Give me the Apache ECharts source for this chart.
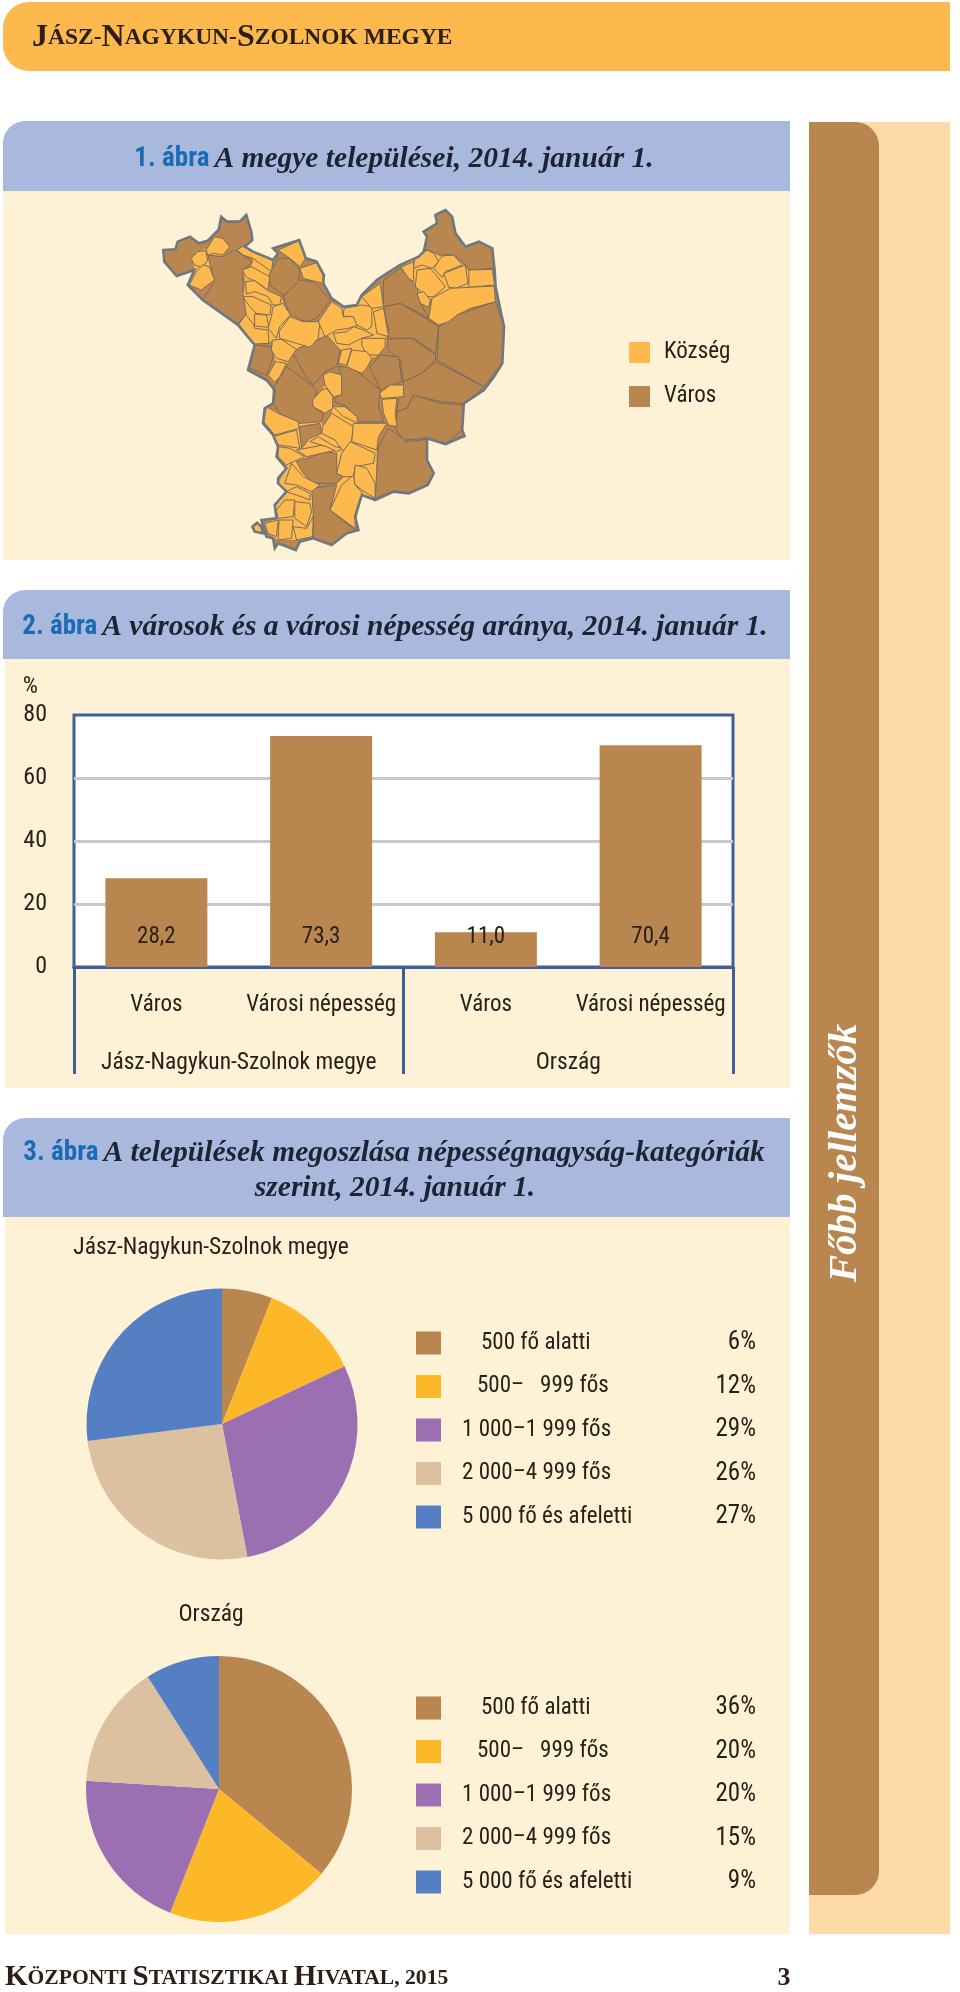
<!DOCTYPE html>
<html><head><meta charset="utf-8">
<style>html,body{margin:0;padding:0;background:#fff}#c{width:960px;height:1992px}</style>
<script src="https://cdn.jsdelivr.net/npm/echarts@6/dist/echarts.min.js"></script>
</head><body><div id="c"></div>
<script>
// ---------- data ----------
const barCategories = ['Város','Városi népesség','Város ','Városi népesség '];
const barGroups = ['Jász-Nagykun-Szolnok megye','Ország'];
const barValues = [28.2,73.3,11.0,70.4];
const barLabels = ['28,2','73,3','11,0','70,4'];
const pieCategories = ['500 fő alatti','500–   999 fős','1 000–1 999 fős','2 000–4 999 fős','5 000 fő és afeletti'];
const pieCounty = [6,12,29,26,27];
const pieCountry = [36,20,20,15,9];
const pieColors = ['#b8864e','#fdb827','#9b6fb1','#dcc1a0','#557fc3'];
const legendIndent = [35,31,16,16,16];
const mapLegend = ['Község','Város'];

// map geometry (map units)
const countyOutline = [[72,180],[108,178],[115,155],[152,140],[178,160],[205,152],[238,118],[245,80],[262,95],[300,95],[320,75],[335,125],[338,150],[315,170],[340,185],[400,210],[415,190],[400,175],[478,150],[498,205],[530,215],[552,255],[550,280],[575,325],[610,350],[650,345],[665,315],[710,270],[725,260],[780,225],[835,200],[850,185],[860,140],[850,125],[890,100],[885,75],[915,60],[935,80],[945,130],[975,170],[1015,155],[1055,175],[1062,240],[1065,290],[1075,340],[1090,410],[1085,520],[1060,560],[1030,600],[970,640],[965,720],[972,738],[915,762],[860,745],[860,810],[880,850],[862,885],[805,910],[760,905],[705,930],[665,915],[645,980],[655,1020],[620,1030],[575,1065],[520,1045],[480,1055],[468,1080],[415,1060],[405,1075],[400,1045],[380,1040],[365,990],[410,985],[405,945],[440,905],[415,880],[415,865],[440,835],[410,800],[415,770],[400,735],[370,700],[375,655],[400,640],[405,600],[380,570],[325,540],[345,465],[295,405],[190,330],[145,285],[165,240],[112,258],[75,215]];
const countyBlob = [[338,1010],[352,998],[365,1010],[370,1030],[345,1025]];
const villageAreas = [
 [[150,285],[165,240],[160,205],[175,185],[205,175],[225,140],[250,145],[270,170],[250,197],[205,197],[225,270],[185,300]],
 [[293,180],[340,185],[400,210],[390,260],[385,300],[425,320],[430,340],[452,375],[490,395],[535,395],[575,335],[610,350],[650,345],[665,320],[720,280],[745,440],[735,470],[715,495],[695,505],[665,550],[620,530],[595,520],[605,480],[580,470],[555,440],[535,445],[510,472],[470,478],[445,515],[420,560],[405,578],[385,555],[408,515],[395,480],[398,450],[388,460],[345,462],[298,402],[318,375],[310,320],[318,275],[308,240],[335,230],[340,205]],
 [[782,232],[835,200],[860,180],[905,198],[940,195],[985,240],[1055,238],[1065,335],[990,355],[950,375],[895,405],[865,385],[875,325],[830,340],[825,290]],
 [[372,695],[380,650],[475,695],[545,695],[548,710],[575,670],[580,650],[615,650],[655,700],[740,700],[715,740],[710,780],[705,925],[665,915],[645,1015],[570,960],[590,880],[610,860],[590,850],[590,790],[560,785],[470,815],[490,850],[540,885],[515,895],[520,970],[518,1040],[470,1050],[415,1050],[385,1030],[375,1000],[410,985],[405,945],[440,905],[415,880],[440,835],[410,800],[415,770],[400,735]],
 [[718,610],[750,585],[790,585],[790,620],[770,625],[765,670],[770,710],[745,705],[730,670],[725,628]],
 [[518,630],[545,600],[555,585],[550,555],[570,545],[605,555],[605,615],[578,620],[578,655],[555,670]]
];
const townPolys = [
 [[390,250],[415,205],[450,205],[480,240],[475,285],[430,315],[395,290],[385,265]],
 [[430,320],[480,270],[520,275],[572,330],[530,385],[500,395],[450,375]],
 [[730,350],[780,340],[830,370],[865,390],[895,410],[885,490],[820,445],[740,445],[745,420]],
 [[740,447],[815,445],[885,495],[885,510],[845,550],[790,575],[780,510],[745,480]],
 [[895,410],[950,375],[1065,335],[1090,410],[1085,520],[1030,590],[890,510]],
 [[790,575],[845,550],[885,515],[1030,590],[1010,610],[970,640],[900,635],[820,615],[800,655],[770,665],[775,625]],
 [[770,665],[800,655],[820,615],[900,640],[970,645],[965,720],[915,762],[860,745],[790,750],[765,715]],
 [[705,925],[715,770],[745,715],[780,740],[795,755],[860,748],[860,810],[880,850],[862,885],[805,910],[760,905]],
 [[470,815],[560,785],[590,790],[590,850],[610,860],[590,880],[520,880],[490,850]],
 [[515,895],[590,885],[570,960],[645,1020],[620,1030],[575,1065],[520,1045],[520,970]],
 [[478,710],[540,700],[545,730],[510,745],[485,775]],
 [[460,490],[475,475],[535,450],[560,435],[600,480],[590,530],[555,545],[520,585],[495,555]],
 [[400,595],[440,530],[515,585],[530,600],[520,650],[550,670],[545,695],[480,700],[420,670],[400,640]],
 [[585,635],[605,560],[595,530],[630,530],[665,555],[720,600],[715,650],[730,695],[655,695],[620,650]],
 [[690,530],[720,495],[775,500],[785,575],[755,585],[720,600]],
 [[330,535],[345,465],[395,470],[400,505],[380,555]],
 [[730,270],[780,235],[830,290],[840,340],[865,385],[830,365],[780,340],[730,350]],
 [[205,195],[250,200],[285,180],[340,215],[310,240],[310,310],[320,375],[295,400],[190,330],[225,275]],
 [[850,185],[860,140],[850,125],[890,100],[885,75],[915,60],[935,80],[945,130],[975,170],[1015,155],[1055,175],[1060,235],[985,240],[965,215],[940,195],[895,195],[860,178]]
];
const villagePolys = [
 [[155,205],[175,185],[198,182],[205,210],[188,232],[165,225]],
 [[200,180],[225,140],[250,145],[270,170],[250,195],[225,190],[205,195]],
 [[150,285],[170,245],[190,225],[210,230],[225,270],[185,300]],
 [[293,180],[310,168],[340,185],[400,210],[395,245],[340,205],[310,195]],
 [[308,240],[335,230],[390,260],[385,300],[350,275],[320,262]],
 [[415,180],[478,152],[498,205],[480,230],[450,205]],
 [[480,235],[530,218],[550,258],[548,280],[490,265]],
 [[318,275],[345,272],[385,302],[425,320],[420,345],[400,345],[385,320],[345,305],[320,312]],
 [[310,320],[340,320],[395,345],[390,375],[350,370],[330,350]],
 [[298,402],[318,375],[340,400],[345,415],[385,420],[388,460],[345,462],[325,440]],
 [[345,372],[380,375],[388,412],[345,408]],
 [[400,350],[430,340],[452,375],[420,410],[410,445],[385,415],[395,380]],
 [[418,425],[450,380],[490,395],[540,395],[535,445],[510,472],[470,460],[420,445]],
 [[398,450],[425,448],[470,478],[445,515],[410,505],[395,480]],
 [[408,515],[440,520],[420,560],[405,578],[385,555]],
 [[535,395],[575,335],[605,355],[610,380],[650,380],[655,405],[625,415],[590,420],[555,440]],
 [[612,355],[665,345],[695,350],[695,410],[680,420],[650,405],[640,380],[610,378]],
 [[665,320],[720,280],[730,350],[695,355]],
 [[700,365],[730,355],[745,440],[710,430]],
 [[580,430],[620,425],[640,410],[670,420],[700,435],[665,445],[625,465],[590,460]],
 [[665,445],[735,445],[735,470],[715,495],[680,495],[665,465]],
 [[605,480],[635,475],[620,525],[595,520]],
 [[635,480],[680,485],[695,505],[680,535],[665,550],[620,530]],
 [[550,555],[570,545],[605,555],[605,615],[580,620],[555,585]],
 [[518,630],[545,600],[560,595],[578,620],[578,655],[555,670],[520,650]],
 [[718,610],[750,585],[790,585],[790,620],[725,625]],
 [[725,628],[770,625],[765,670],[770,710],[745,705],[730,670]],
 [[580,650],[615,650],[650,680],[655,700],[610,680]],
 [[782,232],[820,215],[820,240],[820,275],[805,265]],
 [[822,210],[860,180],[880,190],[895,215],[875,235],[845,225],[820,235]],
 [[880,235],[905,198],[940,195],[965,225],[915,245],[905,262]],
 [[910,250],[975,225],[982,280],[945,295],[925,292]],
 [[830,240],[870,235],[915,290],[880,320],[860,320],[825,290]],
 [[985,240],[1055,238],[1062,285],[985,292]],
 [[830,310],[850,305],[870,330],[865,352],[840,340]],
 [[875,325],[930,295],[1060,288],[1065,335],[990,355],[950,375],[925,395],[895,405],[865,385]],
 [[380,650],[415,670],[475,695],[478,715],[405,735],[372,695]],
 [[400,740],[470,720],[480,775],[450,770],[415,765]],
 [[415,770],[450,775],[495,800],[460,815],[440,825],[415,800]],
 [[470,780],[550,765],[590,780],[500,800]],
 [[510,755],[535,740],[585,770],[610,775],[590,785],[560,770]],
 [[548,710],[575,670],[640,710],[635,750],[610,785],[585,750],[545,730]],
 [[640,700],[740,700],[715,740],[710,780],[635,755]],
 [[590,850],[605,790],[630,755],[705,790],[700,820],[645,830],[640,860],[610,860]],
 [[645,825],[680,835],[705,880],[705,925],[665,900],[640,880]],
 [[570,960],[605,885],[640,855],[645,885],[668,910],[645,975],[645,1015]],
 [[435,880],[455,820],[490,860],[540,885],[515,905],[470,885]],
 [[440,905],[470,890],[510,910],[510,930],[470,915]],
 [[410,960],[435,930],[465,930],[460,980],[415,985]],
 [[465,935],[510,940],[515,965],[500,1010],[465,985]],
 [[418,990],[460,990],[455,1045],[415,1050]],
 [[375,1000],[415,990],[410,1040],[385,1030]],
 [[460,1010],[500,1015],[520,980],[518,1040],[470,1050]],
 [[338,1010],[352,998],[365,1010],[370,1030],[345,1025]]
];

// ---------- map registration ----------
const toGeo = ring => ring.map(p => [p[0], -p[1]]).concat([[ring[0][0], -ring[0][1]]]);
const feat = (name, rings) => ({type:'Feature',properties:{name},geometry:{type:'MultiPolygon',coordinates:rings.map(r=>[toGeo(r)])}});
const features = [feat('base',[countyOutline])];
const mapData = [{name:'base',value:1,itemStyle:{borderWidth:0}}];
villageAreas.forEach((r,i)=>{features.push(feat('a'+i,[r]));mapData.push({name:'a'+i,value:0,itemStyle:{borderWidth:0}});});
townPolys.forEach((r,i)=>{features.push(feat('t'+i,[r]));mapData.push({name:'t'+i,value:1});});
villagePolys.forEach((r,i)=>{features.push(feat('v'+i,[r]));mapData.push({name:'v'+i,value:0});});
features.push(feat('outline',[countyOutline,countyBlob]));
mapData.push({name:'outline',value:NaN,itemStyle:{areaColor:'rgba(0,0,0,0)',borderColor:'#6d7881',borderWidth:2.6}});
echarts.registerMap('jnsz',{type:'FeatureCollection',features});

// ---------- styling ----------
const NARROW = '"Liberation Sans Narrow","Roboto Condensed","Liberation Sans",sans-serif';
const SERIF = '"Liberation Serif",serif';
const INK = '#2a2019';
const BLUE = '#3f5f9c';
const rect = (x,y,w,h,fill,r) => ({type:'rect',z:-5,shape:{x,y,width:w,height:h,r:r||0},style:{fill},silent:true});
const smallCaps = s => s.replace(/([A-ZÁÉÖŐ]+)|([^A-ZÁÉÖŐ]+)/g,(m,a,b)=>a?`{b|${a}}`:`{s|${b.toUpperCase()}}`);
const capsRich = (big,small) => ({b:{fontFamily:SERIF,fontSize:big,color:INK},s:{fontFamily:SERIF,fontSize:small,color:INK}});
const figRich = {
  n:{fontFamily:NARROW,fontWeight:'bold',fontSize:27,color:'#1a6bb3'},
  t:{fontFamily:SERIF,fontWeight:'bold',fontStyle:'italic',fontSize:29.5,color:'#1d2333'}
};
const heading = (text,x,y,align) => ({text,left:x,top:y,padding:0,textAlign:align||'center',textVerticalAlign:'middle',textStyle:{rich:figRich}});
const plain = (text,x,y) => ({text,left:x,top:y,padding:0,textAlign:'center',textVerticalAlign:'middle',textStyle:{fontFamily:NARROW,fontWeight:'normal',fontSize:23.5,color:INK}});

const legendRich = {};
[...new Set(legendIndent)].forEach(w=>{
  legendRich['i'+w]={width:w,height:20,lineHeight:23};
  legendRich['n'+w]={width:270-w,fontFamily:NARROW,fontSize:23,lineHeight:23,color:INK,align:'left'};
});
legendRich.v={width:40,align:'right',fontFamily:NARROW,fontSize:25,lineHeight:23,color:INK};
const pieLegend = (values,top) => ({
  orient:'vertical',left:416,top,padding:0,itemWidth:25,itemHeight:23,itemGap:18.5,icon:'rect',selectedMode:false,
  data:pieCategories,
  textStyle:{rich:legendRich},
  formatter:name=>{const i=pieCategories.indexOf(name),w=legendIndent[i];return `{i${w}|}{n${w}|${name}}{v|${values[i]}%}`;},
});
const pie = (values,cx,cy,r) => ({
  type:'pie',center:[cx,cy],radius:[0,r],startAngle:90,clockwise:true,silent:true,
  color:pieColors,label:{show:false},labelLine:{show:false},emphasis:{disabled:true},animation:false,
  data:pieCategories.map((name,i)=>({name,value:values[i]}))
});

const option = {
  animation:false,
  backgroundColor:'#ffffff',
  graphic:{elements:[
    rect(3,2,947,69,'#fdb94e',[26,0,0,26]),
    rect(3,121,787,70,'#a9b9dd',[22,0,0,0]),
    rect(3,191,787,369,'#fdf2d6'),
    rect(3,590,787,69,'#a9b9dd',[22,0,0,0]),
    rect(5,659,785,429,'#fdf2d6'),
    rect(3,1118,787,99,'#a9b9dd',[22,0,0,0]),
    rect(5,1217,785,717,'#fdf2d6'),
    rect(809,122,141,1812,'#fedaa6'),
    rect(809,122,70,1773,'#b8864e',[0,24,24,0]),
    {type:'text',z:20,x:845,y:1153,rotation:Math.PI/2,silent:true,
     style:{text:'Főbb jellemzők',fontFamily:SERIF,fontWeight:'bold',fontStyle:'italic',fontSize:41,fill:'#ffffff',align:'center',verticalAlign:'middle'}}
  ]},
  title:[
    {text:smallCaps('Jász-Nagykun-Szolnok megye'),left:32,top:38,padding:0,textAlign:'left',textVerticalAlign:'middle',textStyle:{rich:capsRich(32,23.5)}},
    heading('{n|1. ábra} {t|A megye települései, 2014. január 1.}',394,159),
    heading('{n|2. ábra} {t|A városok és a városi népesség aránya, 2014. január 1.}',395,627),
    heading('{n|3. ábra} {t|A települések megoszlása népességnagyság-kategóriák}',394,1153),
    heading('{t|szerint, 2014. január 1.}',395,1188),
    plain(barGroups[0],211,1248),
    plain(barGroups[1],211,1615),
    {text:smallCaps('Központi Statisztikai Hivatal, 2015'),left:5,top:1978,padding:0,textAlign:'left',textVerticalAlign:'middle',textStyle:{rich:capsRich(29,21.6)}},
    {text:'3',left:784,top:1978,padding:0,textAlign:'center',textVerticalAlign:'middle',textStyle:{fontFamily:SERIF,fontWeight:'bold',fontSize:26,color:INK}}
  ],
  grid:{left:74,top:715,width:659,height:252,show:true,backgroundColor:'#ffffff',borderColor:BLUE,borderWidth:3},
  xAxis:[
    {type:'category',data:barCategories,position:'bottom',
     axisLine:{lineStyle:{color:BLUE,width:3}},axisTick:{show:false},
     axisLabel:{margin:27,interval:0,fontFamily:NARROW,fontSize:23,color:INK,formatter:v=>v.trim()}},
    {type:'category',data:barGroups,position:'bottom',
     axisLine:{lineStyle:{color:BLUE,width:3}},
     axisTick:{show:true,alignWithLabel:false,length:107,lineStyle:{color:BLUE,width:3}},
     axisLabel:{margin:84,interval:0,fontFamily:NARROW,fontSize:23.5,color:INK}}
  ],
  yAxis:{type:'value',min:0,max:80,interval:20,name:'%',nameLocation:'end',nameGap:28,
    nameTextStyle:{fontFamily:NARROW,fontSize:24,color:INK,align:'right',verticalAlign:'middle',padding:[0,36,0,0]},
    axisLine:{show:false},axisTick:{show:false},
    axisLabel:{margin:27,fontFamily:NARROW,fontSize:24,color:INK},
    splitLine:{showMinLine:false,showMaxLine:false,lineStyle:{color:'#c9c9c9',width:3}}},
  legend:[pieLegend(pieCounty,1330.5),pieLegend(pieCountry,1695.5)],
  visualMap:{type:'piecewise',seriesIndex:0,selectedMode:false,hoverLink:false,left:629,top:341,padding:0,inverse:true,
    orient:'vertical',itemSymbol:'rect',itemWidth:21,itemHeight:21,itemGap:21,textGap:14,align:'left',
    textStyle:{fontFamily:NARROW,fontSize:23,color:INK},
    pieces:[{value:0,label:mapLegend[0],color:'#fdb94e'},{value:1,label:mapLegend[1],color:'#b8864e'}]},
  series:[
    {type:'map',map:'jnsz',left:163.3,top:210,width:340.7,height:340,aspectScale:1,roam:false,silent:true,showLegendSymbol:false,
     label:{show:false},emphasis:{disabled:true},select:{disabled:true},selectedMode:false,
     itemStyle:{borderColor:'#7a6c5c',borderWidth:1},data:mapData},
    {type:'bar',xAxisIndex:0,yAxisIndex:0,data:barValues,barWidth:102,silent:true,
     itemStyle:{color:'#b8864e'},
     label:{show:true,position:'insideBottom',distance:18,fontFamily:NARROW,fontSize:23,color:INK,formatter:p=>barLabels[p.dataIndex]}},
    pie(pieCounty,222,1424,135.5),
    pie(pieCountry,219,1789,133)
  ]
};
const chart = echarts.init(document.getElementById('c'),null,{renderer:'canvas',width:960,height:1992});
chart.setOption(option);
</script></body></html>
